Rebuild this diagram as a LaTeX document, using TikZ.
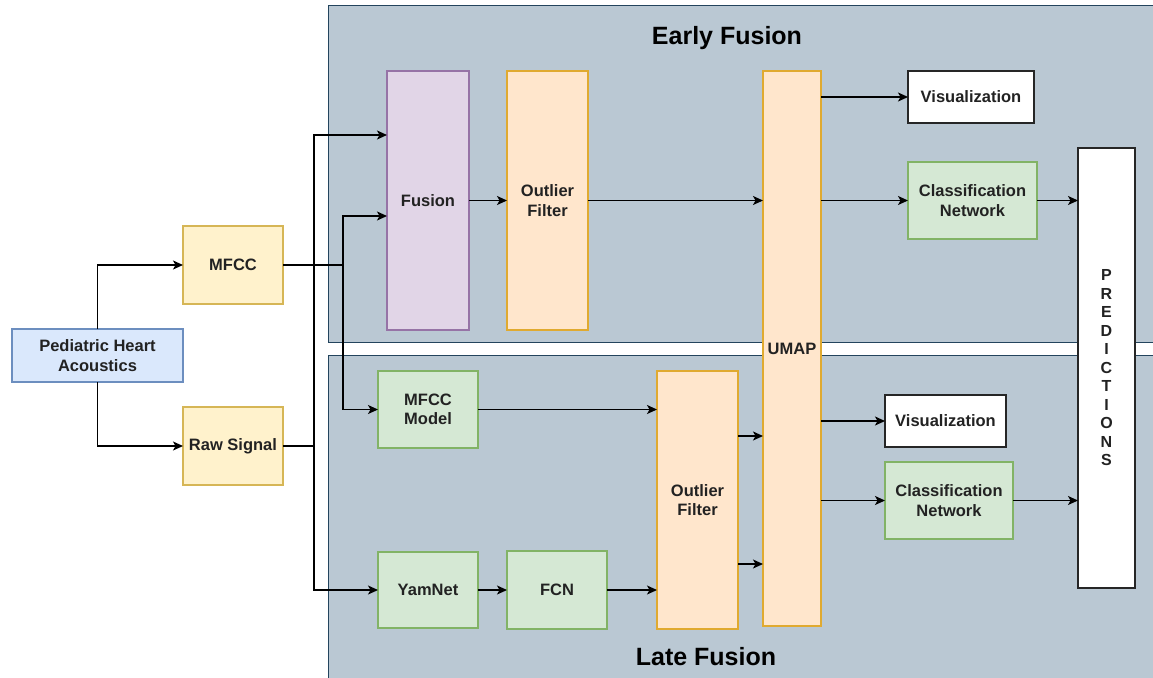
\documentclass[tikz,border=0pt]{standalone}
\usepackage{fontspec}
\setmainfont{Liberation Sans}
\usetikzlibrary{arrows.meta}
\definecolor{panelfill}{HTML}{BAC8D3}
\definecolor{paneldraw}{HTML}{23445D}
\definecolor{yelfill}{HTML}{FFF2CC}
\definecolor{yeldraw}{HTML}{D6B656}
\definecolor{orfill}{HTML}{FFE6CC}
\definecolor{ordraw}{HTML}{E0AA30}
\definecolor{purfill}{HTML}{E1D5E7}
\definecolor{purdraw}{HTML}{9673A6}
\definecolor{grfill}{HTML}{D5E8D4}
\definecolor{grdraw}{HTML}{82B366}
\definecolor{blfill}{HTML}{DAE8FC}
\definecolor{bldraw}{HTML}{6C8EBF}
\definecolor{txt}{HTML}{222222}
\tikzset{
  box/.style={draw, line width=1.2pt, inner sep=0pt, outer sep=0pt, align=center,
    text=txt, font=\fontsize{16.5}{19.5}\selectfont\bfseries},
  yelbox/.style={box, fill=yelfill, draw=yeldraw},
  orbox/.style={box, fill=orfill, draw=ordraw},
  purbox/.style={box, fill=purfill, draw=purdraw},
  grbox/.style={box, fill=grfill, draw=grdraw},
  blbox/.style={box, fill=blfill, draw=bldraw},
  whbox/.style={box, fill=white, draw=black!85},
  arr/.style={draw=black, line width=1.4pt, -{Stealth[length=10pt,width=9pt,inset=2.5pt]}},
  lin/.style={draw=black, line width=1.4pt},
  panel/.style={fill=panelfill, draw=paneldraw, line width=1pt},
  title/.style={font=\fontsize{25}{29}\selectfont\bfseries, text=black, inner sep=0pt}
}
\begin{document}
\begin{tikzpicture}[x=1pt, y=-1pt]
\useasboundingbox (0,0) rectangle (1153,677);
\clip (0,0) rectangle (1153,677);
\fill[white] (0,0) rectangle (1153,677);
% panels
\path[panel] (328,6) rectangle (1175,342);
\path[panel] (328,355) rectangle (1175,700);
\node[title] (tEarly) at (727,38) {Early Fusion};
\node[title] (tLate) at (706,657) {Late Fusion};
% nodes
\node[blbox, minimum width=171, minimum height=53] (pha) at (97.5,355.5) {Pediatric Heart\\Acoustics};
\node[yelbox, minimum width=100, minimum height=78] (mfcc) at (233,265) {MFCC};
\node[yelbox, minimum width=100, minimum height=78] (raw) at (233,446) {Raw Signal};
\node[purbox, minimum width=82, minimum height=259] (fusion) at (428,200.5) {Fusion};
\node[orbox, minimum width=81, minimum height=259] (out1) at (547.5,200.5) {Outlier\\Filter};
\node[orbox, minimum width=58, minimum height=555] (umap) at (792,348.5) {UMAP};
\node[whbox, minimum width=126, minimum height=52] (vis1) at (971,97) {Visualization};
\node[grbox, minimum width=129, minimum height=77] (cls1) at (972.5,200.5) {Classification\\Network};
\node[whbox, minimum width=57, minimum height=440, font=\fontsize{16}{18.5}\selectfont\bfseries] (pred) at (1106.5,368) {P\\R\\E\\D\\I\\C\\T\\I\\O\\N\\S};
\node[grbox, minimum width=100, minimum height=77] (mfccm) at (428,409.5) {MFCC\\Model};
\node[grbox, minimum width=100, minimum height=76] (yam) at (428,590) {YamNet};
\node[grbox, minimum width=100, minimum height=78] (fcn) at (557,590) {FCN};
\node[orbox, minimum width=81, minimum height=258] (out2) at (697.5,500) {Outlier\\Filter};
\node[whbox, minimum width=121, minimum height=52] (vis2) at (945.5,421) {Visualization};
\node[grbox, minimum width=128, minimum height=77] (cls2) at (949,500.5) {Classification\\Network};
% junctions
\coordinate (jr) at (314,446);
\coordinate (jm) at (343,265);
% connectors
\draw[arr] (pha.north) |- (mfcc.west);
\draw[arr] (pha.south) |- (raw.west);
\draw[lin] (raw.east) -- (jr);
\draw[arr] (jr) |- ([yshift=65.5pt]fusion.west);
\draw[arr] (jr) |- (yam.west);
\draw[lin, line width=2pt] (mfcc.east) -- (jm);
\draw[arr] (jm) |- ([yshift=-15.5pt]fusion.west);
\draw[arr] (jm) |- (mfccm.west);
\draw[arr] (fusion.east) -- (out1.west);
\draw[arr] (out1.east) -- (out1.east -| umap.west);
\draw[arr] (vis1.west -| umap.east) -- (vis1.west);
\draw[arr] (cls1.west -| umap.east) -- (cls1.west);
\draw[arr] (cls1.east) -- (cls1.east -| pred.west);
\draw[arr] (mfccm.east) -- (mfccm.east -| out2.west);
\draw[arr] (yam.east) -- (fcn.west);
\draw[arr] (fcn.east) -- (fcn.east -| out2.west);
\draw[arr] ([yshift=64pt]out2.east) -- ([yshift=64pt]out2.east -| umap.west);
\draw[arr] ([yshift=-64pt]out2.east) -- ([yshift=-64pt]out2.east -| umap.west);
\draw[arr] (vis2.west -| umap.east) -- (vis2.west);
\draw[arr] (cls2.west -| umap.east) -- (cls2.west);
\draw[arr] (cls2.east) -- (cls2.east -| pred.west);
\end{tikzpicture}
\end{document}
